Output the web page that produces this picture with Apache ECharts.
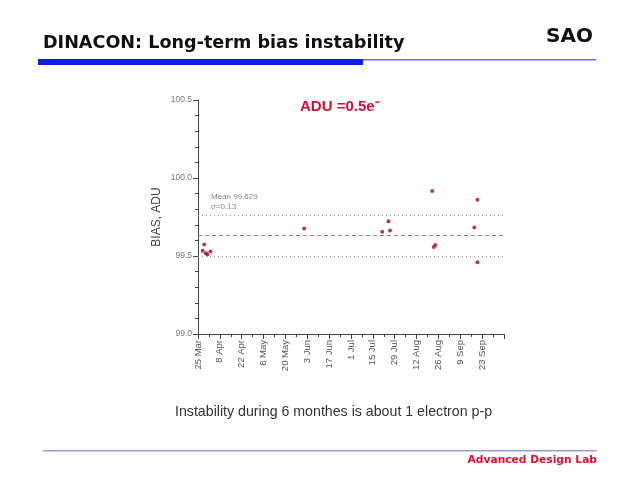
<!DOCTYPE html>
<html>
<head>
<meta charset="utf-8">
<script src="https://cdn.jsdelivr.net/npm/echarts@6/dist/echarts.min.js"></script>
<style>html,body{margin:0;padding:0;background:#fff;}#c{width:640px;height:480px;}</style>
</head>
<body>
<div id="c"></div>
<script>
// Day offsets from 25 Mar
var dayOffsets = [3, 4, 5, 6, 8, 68, 118, 122, 123, 150, 151, 152, 177, 179, 179];
var biasValues = [99.533, 99.574, 99.518, 99.510, 99.529, 99.677, 99.655, 99.722, 99.664, 99.916, 99.558, 99.571, 99.683, 99.861, 99.460];
var xTickLabels = ['25 Mar','8 Apr','22 Apr','6 May','20 May','3 Jun','17 Jun','1 Jul','15 Jul','29 Jul','12 Aug','26 Aug','9 Sep','23 Sep'];
var meanValue = 99.629;
var sigmaValue = 0.13;

var chart = echarts.init(document.getElementById('c'));
var pts = dayOffsets.map(function (d, i) { return [d, biasValues[i]]; });

chart.setOption({
  animation: false,
  backgroundColor: '#fff',
  grid: { left: 198, top: 100, width: 306, height: 234 },
  xAxis: {
    type: 'value', min: 0, max: 196, interval: 14,
    axisLine: { lineStyle: { color: '#444', width: 1 } },
    axisTick: { lineStyle: { color: '#444' }, length: 5 },
    minorTick: { show: true, splitNumber: 2, length: 3, lineStyle: { color: '#444' } },
    splitLine: { show: false },
    axisLabel: {
      rotate: 90, fontSize: 9.5, color: '#555', fontFamily: 'Liberation Sans', margin: 6,
      formatter: function (v) { var i = Math.round(v / 14); return (v % 14 === 0 && xTickLabels[i]) ? xTickLabels[i] : ''; }
    }
  },
  yAxis: {
    type: 'value', min: 99.0, max: 100.5, interval: 0.5,
    name: 'BIAS, ADU', nameLocation: 'middle', nameGap: 35,
    nameTextStyle: { fontSize: 12, color: '#444', fontFamily: 'Liberation Sans' },
    axisLine: { show: true, lineStyle: { color: '#444', width: 1 } },
    axisTick: { show: true, lineStyle: { color: '#444' }, length: 5 },
    minorTick: { show: true, splitNumber: 5, length: 3, lineStyle: { color: '#444' } },
    splitLine: { show: false },
    axisLabel: { fontSize: 8.5, color: '#777', fontFamily: 'Liberation Sans', margin: 6,
      formatter: function (v) { return v.toFixed(1); } }
  },
  series: [{
    type: 'scatter',
    data: pts,
    symbol: 'circle',
    symbolSize: 4,
    itemStyle: { color: '#a00a28' },
    markLine: {
      silent: true, symbol: 'none', label: { show: false },
      data: [
        { yAxis: meanValue, lineStyle: { type: [4, 3], color: '#888', width: 1 } },
        { yAxis: meanValue + sigmaValue, lineStyle: { type: [1, 3], color: '#999', width: 1 } },
        { yAxis: meanValue - sigmaValue, lineStyle: { type: [1, 3], color: '#999', width: 1 } }
      ]
    }
  }],
  graphic: [
    { type: 'text', left: 43, top: 34, style: { text: 'DINACON: Long-term bias instability', font: 'bold 17.6px "DejaVu Sans"', fill: '#111' } },
    { type: 'text', right: 47, top: 27, style: { text: 'SAO', font: 'bold 20px "DejaVu Sans"', fill: '#111' } },
    { type: 'rect', shape: { x: 38, y: 59, width: 325, height: 6 }, style: { fill: '#0d1ee6' } },
    { type: 'rect', shape: { x: 363, y: 59, width: 233, height: 1.5 }, style: { fill: '#6f6fe0' } },
    { type: 'text', left: 300, top: 99, style: { text: 'ADU =0.5e⁻', font: 'bold 15px "Liberation Sans"', fill: '#cc1133' } },
    { type: 'text', left: 211, top: 192, style: { text: 'Mean 99.629\nσ=0.13', font: '8px "Liberation Sans"', fill: '#888', lineHeight: 10 } },
    { type: 'text', left: 175, top: 405, style: { text: 'Instability during 6 monthes is about 1 electron p-p', font: '14.2px "Liberation Sans"', fill: '#333' } },
    { type: 'rect', shape: { x: 43, y: 450, width: 554, height: 1.5 }, style: { fill: '#9a9ae0' } },
    { type: 'text', right: 43, top: 455, style: { text: 'Advanced Design Lab', font: 'bold 10.7px "DejaVu Sans"', fill: '#dd1133' } }
  ]
});
</script>
</body>
</html>
